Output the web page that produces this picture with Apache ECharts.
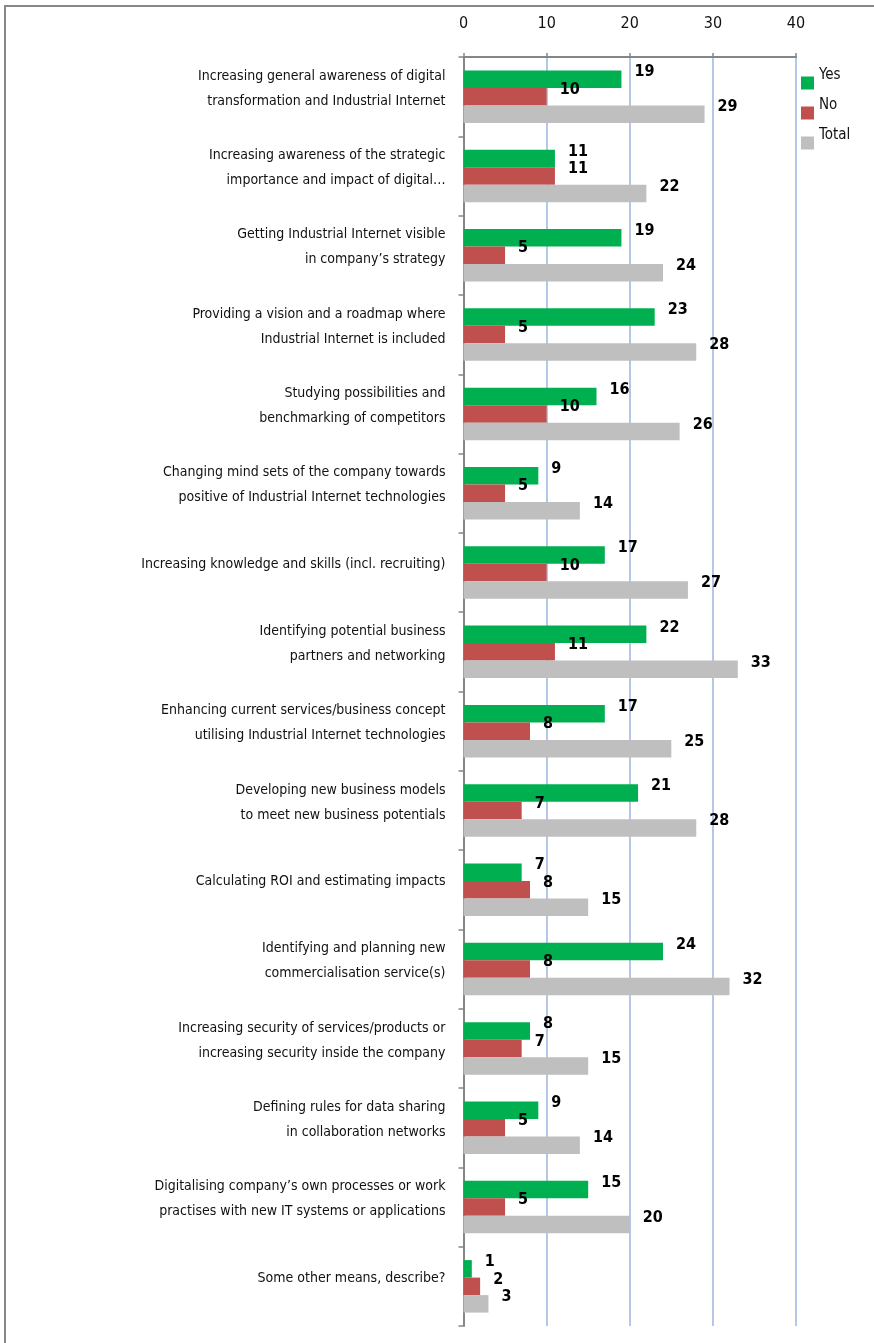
<!DOCTYPE html>
<html>
<head>
<meta charset="utf-8">
<script src="https://cdn.jsdelivr.net/npm/echarts@6/dist/echarts.min.js"></script>
<style>
  html, body { margin: 0; padding: 0; background: #fff; }
  #chart { width: 874px; height: 1343px; }
</style>
</head>
<body>
<div id="chart"></div>
<script>
// Measures supporting Industrial Internet adoption
const categories = [
  'Increasing general awareness of digital\ntransformation and Industrial Internet',
  'Increasing awareness of the strategic\nimportance and impact of digital…',
  'Getting Industrial Internet visible\nin company\u2019s strategy',
  'Providing a vision and a roadmap where\nIndustrial Internet is included',
  'Studying possibilities and\nbenchmarking of competitors',
  'Changing mind sets of the company towards\npositive of Industrial Internet technologies',
  'Increasing knowledge and skills (incl. recruiting)',
  'Identifying potential business\npartners and networking',
  'Enhancing current services/business concept\nutilising Industrial Internet technologies',
  'Developing new business models\nto meet new business potentials',
  'Calculating ROI and estimating impacts',
  'Identifying and planning new\ncommercialisation service(s)',
  'Increasing security of services/products or\nincreasing security inside the company',
  'Defining rules for data sharing\nin collaboration networks',
  'Digitalising company\u2019s own processes or work\npractises with new IT systems or applications',
  'Some other means, describe?'
];
const yesValues   = [19, 11, 19, 23, 16, 9, 17, 22, 17, 21, 7, 24, 8, 9, 15, 1];
const noValues    = [10, 11, 5, 5, 10, 5, 10, 11, 8, 7, 8, 8, 7, 5, 5, 2];
const totalValues = [29, 22, 24, 28, 26, 14, 27, 33, 25, 28, 15, 32, 15, 14, 20, 3];
const xTicks = [0, 10, 20, 30, 40];

const FONT = "'DejaVu Sans Condensed', 'Liberation Sans Narrow', sans-serif";

const chart = echarts.init(document.getElementById('chart'), null, { renderer: 'canvas' });

function barSeries(name, data, color) {
  return {
    name: name,
    type: 'bar',
    data: data,
    barWidth: 17.5,
    barGap: '0%',
    itemStyle: { color: color },
    label: {
      show: true,
      position: 'right',
      distance: 0,
      offset: [13, -7],
      color: '#000',
      fontFamily: FONT,
      fontWeight: 'bold',
      fontSize: 16
    },
    emphasis: { disabled: true }
  };
}

chart.setOption({
  animation: false,
  textStyle: { fontFamily: FONT },
  graphic: [
    {
      type: 'polyline',
      shape: { points: [[5, 1343], [5, 6], [874, 6]] },
      style: { stroke: '#898989', lineWidth: 2, fill: null }
    }
  ],
  legend: {
    orient: 'vertical',
    left: 801,
    top: 65,
    padding: 0,
    itemWidth: 13,
    itemHeight: 13,
    itemGap: -6,
    icon: 'rect',
    selectedMode: false,
    // trailing spacer line lifts the name above its swatch
    formatter: function (name) { return name + '\n{gap|}'; },
    textStyle: {
      fontFamily: FONT,
      fontSize: 15,
      lineHeight: 20,
      color: '#111',
      rich: { gap: { fontSize: 1, lineHeight: 16 } }
    },
    data: ['Yes', 'No', 'Total']
  },
  grid: {
    left: 463.5,
    right: 78,
    top: 57,
    bottom: 17,
    containLabel: false
  },
  xAxis: {
    type: 'value',
    position: 'top',
    min: xTicks[0],
    max: xTicks[xTicks.length - 1],
    interval: 10,
    axisLine: { show: true, lineStyle: { color: '#868686', width: 2 } },
    axisTick: { show: true, length: 4, lineStyle: { color: '#868686', width: 1.5 } },
    axisLabel: {
      margin: 25,
      fontFamily: FONT,
      fontSize: 16,
      color: '#111'
    },
    splitLine: { show: true, lineStyle: { color: '#b4c7e7', width: 2 } }
  },
  yAxis: {
    type: 'category',
    inverse: true,
    data: categories,
    axisLine: { show: true, lineStyle: { color: '#868686', width: 2 } },
    axisTick: { show: true, length: 5, lineStyle: { color: '#868686', width: 1.5 } },
    axisLabel: {
      margin: 18,
      fontFamily: FONT,
      fontSize: 14,
      lineHeight: 25,
      color: '#111',
      align: 'right',
      // spacer line keeps the label block slightly above the band centre
      formatter: function (value) { return value + '\n{gap|}'; },
      rich: { gap: { fontSize: 1, lineHeight: 16 } }
    }
  },
  series: [
    barSeries('Yes', yesValues, '#00b050'),
    barSeries('No', noValues, '#c0504d'),
    barSeries('Total', totalValues, '#bfbfbf')
  ]
});
</script>
</body>
</html>
